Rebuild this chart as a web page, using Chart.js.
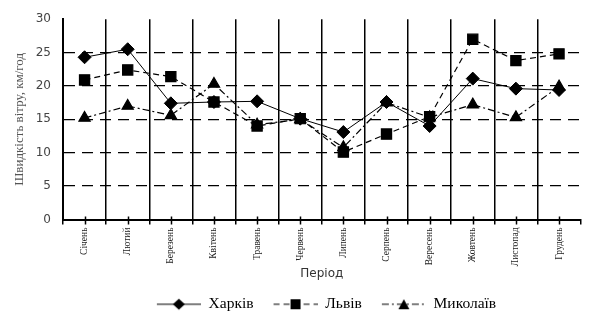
<!DOCTYPE html>
<html lang="uk">
<head>
  <meta charset="UTF-8" />
  <title>Швидкість вітру</title>
  <script src="https://cdn.jsdelivr.net/npm/chart.js"></script>
  <style>
    html, body { margin: 0; padding: 0; background: #fff; }
    #wrap { width: 589px; height: 322px; }
  </style>
</head>
<body>
  <div id="wrap"><canvas id="wind"></canvas></div>

  <script>
    // дані з графіка (середня швидкість вітру, км/год)
    const months = ['Січень', 'Лютий', 'Березень', 'Квітень', 'Травень', 'Червень',
                    'Липень', 'Серпень', 'Вересень', 'Жовтень', 'Листопад', 'Грудень'];
    const kharkiv  = [24.3, 25.5, 17.4, 17.6, 17.7, 15.1, 13.1, 17.6, 14.0, 21.1, 19.6, 19.4];
    const lviv     = [20.9, 22.4, 21.4, 17.6, 14.0, 15.1, 10.1, 12.8, 15.4, 27.0, 23.8, 24.8];
    const mykolaiv = [15.2, 17.0, 15.6, 20.3, 14.2, 15.0, 10.8, 17.5, 15.3, 17.2, 15.3, 19.9];
    const yTicks = [0, 5, 10, 15, 20, 25, 30];

    const serif = "'Liberation Serif', 'Times New Roman', serif";
    const sans = "'DejaVu Sans', Verdana, sans-serif";

    // маленька картинка для легенди: лінія + маркер (зліва 8px порожньо)
    function legendSample(dash, style) {
      const c = document.createElement('canvas');
      c.width = 52; c.height = 14;
      const g = c.getContext('2d');
      g.translate(8, 0);
      g.strokeStyle = '#000';
      g.lineWidth = 1.2;
      g.setLineDash(dash);
      g.beginPath(); g.moveTo(0, 7); g.lineTo(44, 7); g.stroke();
      g.setLineDash([]);
      g.fillStyle = '#000';
      g.beginPath();
      if (style === 'diamond') {
        g.moveTo(22, 1.5); g.lineTo(28, 7); g.lineTo(22, 12.5); g.lineTo(16, 7);
      } else if (style === 'square') {
        g.rect(17, 2, 10, 10);
      } else {
        g.moveTo(22, 2); g.lineTo(27.5, 12); g.lineTo(16.5, 12);
      }
      g.closePath(); g.fill();
      return c;
    }
    const samples = [
      legendSample([], 'diamond'),
      legendSample([6, 4], 'square'),
      legendSample([7, 3, 2, 3], 'triangle')
    ];

    // засічки по центрах категорій на осі X
    const centerTicks = {
      id: 'centerTicks',
      afterLayout(chart) {
        // легенда центрована під областю графіка, а не під усім полотном
        chart.legend.left += 62;
      },
      afterDraw(chart) {
        const x = chart.scales.x, ctx = chart.ctx, y0 = chart.chartArea.bottom;
        ctx.save();
        ctx.strokeStyle = '#000';
        ctx.lineWidth = 1.5;
        for (let i = 0; i < months.length; i++) {
          const px = Math.round(x.getPixelForValue(i)) + 0.5;
          ctx.beginPath(); ctx.moveTo(px, y0 - 3); ctx.lineTo(px, y0 + 5); ctx.stroke();
        }
        ctx.restore();
      }
    };

    new Chart(document.getElementById('wind'), {
      type: 'line',
      data: {
        labels: months,
        datasets: [
          {
            label: 'Харків', data: kharkiv, order: 0,
            borderColor: '#000', backgroundColor: '#000', borderWidth: 1,
            pointStyle: 'rectRot', pointRadius: 6.5, pointHoverRadius: 6.5
          },
          {
            label: 'Львів', data: lviv, order: 1,
            borderColor: '#000', backgroundColor: '#000', borderWidth: 1.2, borderDash: [6, 4],
            pointStyle: 'rect', pointRadius: 7.2, pointHoverRadius: 7.2
          },
          {
            label: 'Миколаїв', data: mykolaiv, order: 2,
            borderColor: '#000', backgroundColor: '#000', borderWidth: 1.2, borderDash: [7, 3, 2, 3],
            pointStyle: 'triangle', pointRadius: 6.5, pointHoverRadius: 6.5
          }
        ]
      },
      options: {
        responsive: true,
        maintainAspectRatio: false,
        animation: false,
        layout: { padding: { top: 8, right: 6, left: 0, bottom: 0 } },
        plugins: {
          tooltip: { enabled: false },
          legend: {
            position: 'bottom',
            labels: {
              usePointStyle: true,
              pointStyleWidth: 52,
              padding: 12,
              color: '#000',
              font: { family: serif, size: 15.5 },
              generateLabels(chart) {
                const items = Chart.defaults.plugins.legend.labels.generateLabels(chart);
                items.forEach((it, i) => { it.pointStyle = samples[i]; });
                return items;
              }
            }
          }
        },
        scales: {
          x: {
            type: 'category',
            offset: true,
            border: { color: '#000', width: 2 },
            grid: {
              offset: true,
              lineWidth: 1.5,
              color: c => (c.type === 'tick' ? '#000' : 'rgba(0,0,0,0)'),
              tickColor: '#000',
              tickLength: 5
            },
            ticks: {
              autoSkip: false,
              minRotation: 90,
              maxRotation: 90,
              padding: 3,
              color: '#222',
              font: { family: serif, size: 9.5 }
            },
            title: {
              display: true,
              text: 'Період',
              color: '#333',
              font: { family: sans, size: 12 },
              padding: { top: 6, bottom: 3 }
            },
            afterFit: s => { s.height = 65; }
          },
          y: {
            min: 0,
            max: 30,
            afterBuildTicks: s => { s.ticks = yTicks.map(v => ({ value: v })); },
            border: { color: '#000', width: 2, dash: [11, 7] },
            grid: {
              drawTicks: false,
              lineWidth: 1.3,
              color: c => (c.tick && c.tick.value > 0 && c.tick.value < 30 ? '#000' : 'rgba(0,0,0,0)')
            },
            ticks: {
              padding: 12,
              color: '#444',
              font: { family: sans, size: 12 }
            },
            title: {
              display: true,
              text: 'Швидкість вітру, км/год',
              color: '#555',
              font: { family: serif, size: 13 },
              padding: { top: 12, bottom: 0 }
            },
            afterFit: s => { s.width = 63; }
          }
        }
      },
      plugins: [centerTicks]
    });
  </script>
</body>
</html>
